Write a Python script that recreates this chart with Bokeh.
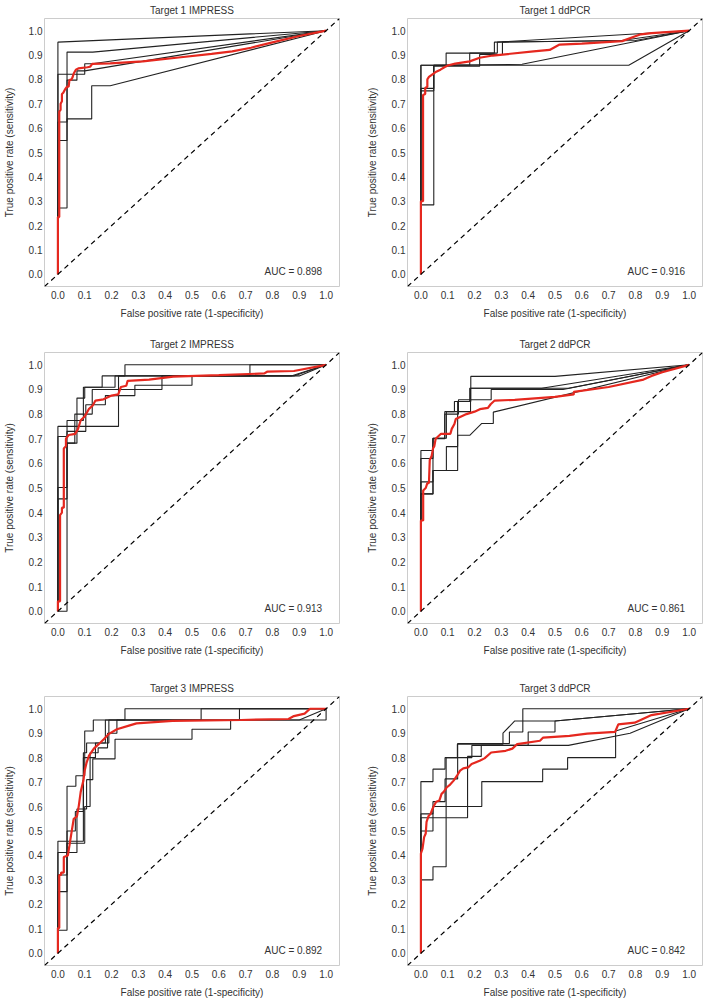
from bokeh.plotting import figure
from bokeh.layouts import column, row
from bokeh.models import Range1d, FixedTicker, Slope, Label
from bokeh.embed import file_html
from bokeh.resources import INLINE

TITLES = ["Target 1 IMPRESS", "Target 1 ddPCR", "Target 2 IMPRESS",
          "Target 2 ddPCR", "Target 3 IMPRESS", "Target 3 ddPCR"]
AUC_LABELS = ["AUC = 0.898", "AUC = 0.916", "AUC = 0.913",
              "AUC = 0.861", "AUC = 0.892", "AUC = 0.842"]
TICKS = [0.0, 0.1, 0.2, 0.3, 0.4, 0.5, 0.6, 0.7, 0.8, 0.9, 1.0]
TICK_LABELS = ["0.0", "0.1", "0.2", "0.3", "0.4", "0.5", "0.6", "0.7", "0.8", "0.9", "1.0"]
X_LABEL = "False positive rate (1-specificity)"
Y_LABEL = "True positive rate (sensitivity)"

# ---- Target 1 IMPRESS ----
T1I_BLACK_X = [
    [0, 0, 1],
    [0, 0, 0.034, 0.034, 0.13, 1],
    [0, 0, 0.1, 0.1, 0.128, 1],
    [0, 0, 0.034, 0.034, 0.071, 0.071, 0.1, 1],
    [0, 0, 0.034, 0.034, 0.126, 0.126, 0.195, 1],
]
T1I_BLACK_Y = [
    [0, 0.953, 1],
    [0, 0.272, 0.272, 0.912, 0.912, 1],
    [0, 0.821, 0.821, 0.864, 0.864, 1],
    [0, 0.549, 0.549, 0.797, 0.797, 0.835, 0.835, 1],
    [0, 0.625, 0.625, 0.638, 0.638, 0.774, 0.774, 1],
]
T1I_RED_X = [0, 0, 0.005, 0.005, 0.01, 0.01, 0.015, 0.015, 0.02, 0.027,
             0.034, 0.04, 0.043, 0.051, 0.055, 0.059, 0.067, 0.076, 0.11, 0.12,
             0.128, 0.195, 0.317, 0.45, 0.573, 0.65, 0.72, 0.8, 0.9, 1]
T1I_RED_Y = [0, 0.235, 0.235, 0.668, 0.675, 0.7, 0.71, 0.74, 0.745, 0.76,
             0.77, 0.77, 0.797, 0.8, 0.81, 0.824, 0.84, 0.845, 0.85, 0.852,
             0.864, 0.866, 0.874, 0.89, 0.905, 0.915, 0.93, 0.952, 0.978, 1]

# ---- Target 1 ddPCR ----
T1D_BLACK_X = [
    [0, 0, 0.094, 0.094, 0.185, 0.274, 0.274, 0.75, 1],
    [0, 0, 0.048, 0.048, 0.219, 0.219, 0.304, 0.304, 0.8, 1],
    [0, 0, 0.048, 0.048, 0.182, 0.182, 0.285, 0.285, 1],
    [0, 0, 0.048, 0.048, 0.377, 1],
    [0, 0, 0.775, 1],
]
T1D_BLACK_Y = [
    [0, 0.858, 0.858, 0.908, 0.908, 0.908, 0.953, 0.96, 1],
    [0, 0.285, 0.285, 0.854, 0.854, 0.902, 0.902, 0.953, 0.96, 1],
    [0, 0.763, 0.763, 0.858, 0.858, 0.908, 0.908, 0.953, 1],
    [0, 0.753, 0.753, 0.858, 0.862, 1],
    [0, 0.858, 0.858, 1],
]
T1D_RED_X = [0, 0, 0.008, 0.008, 0.016, 0.016, 0.024, 0.024, 0.03, 0.043,
             0.055, 0.073, 0.089, 0.103, 0.128, 0.182, 0.219, 0.268, 0.42, 0.48,
             0.517, 0.6, 0.75, 0.82, 0.86, 1]
T1D_RED_Y = [0, 0.3, 0.3, 0.736, 0.74, 0.765, 0.77, 0.8, 0.81, 0.821,
             0.83, 0.84, 0.851, 0.858, 0.865, 0.874, 0.889, 0.898, 0.915, 0.921,
             0.943, 0.947, 0.957, 0.985, 0.99, 1]

# ---- Target 2 IMPRESS ----
T2I_BLACK_X = [
    [0, 0, 0.226, 0.226, 0.87, 1],
    [0, 0, 0.034, 0.034, 0.095, 0.095, 0.213, 0.213, 0.25, 0.25, 1],
    [0, 0, 0.034, 0.034, 0.071, 0.071, 0.1, 0.1, 0.165, 0.165, 0.716, 0.716, 1],
    [0, 0, 0.034, 0.034, 0.104, 0.104, 0.177, 0.177, 0.287, 0.287, 0.5, 0.5, 0.9, 1],
    [0, 0.034, 0.034, 0.063, 0.063, 0.128, 0.128, 0.388, 0.388, 0.88, 1],
]
T2I_BLACK_Y = [
    [0, 0.75, 0.75, 0.955, 0.955, 1],
    [0, 0.709, 0.709, 0.774, 0.774, 0.909, 0.909, 0.955, 0.955, 1.0, 1],
    [0, 0.502, 0.502, 0.682, 0.682, 0.865, 0.865, 0.909, 0.909, 0.955, 0.955, 1.0, 1],
    [0, 0.456, 0.456, 0.73, 0.73, 0.838, 0.838, 0.875, 0.875, 0.917, 0.917, 0.955, 0.955, 1],
    [0, 0, 0.682, 0.682, 0.8, 0.8, 0.9, 0.9, 0.955, 0.955, 1],
]
T2I_RED_X = [0, 0, 0.008, 0.008, 0.015, 0.015, 0.022, 0.022, 0.03, 0.03,
             0.04, 0.065, 0.075, 0.085, 0.1, 0.105, 0.115, 0.13, 0.14, 0.17,
             0.2, 0.225, 0.235, 0.255, 0.26, 0.34, 0.43, 0.6, 0.77, 0.78,
             0.88, 1]
T2I_RED_Y = [0, 0.04, 0.04, 0.39, 0.4, 0.42, 0.42, 0.66, 0.67, 0.7,
             0.715, 0.72, 0.74, 0.775, 0.79, 0.8, 0.82, 0.835, 0.855, 0.86,
             0.875, 0.88, 0.91, 0.915, 0.935, 0.94, 0.952, 0.958, 0.965, 0.972,
             0.975, 1]

# ---- Target 2 ddPCR ----
T2D_BLACK_X = [
    [0, 0, 0.045, 0.045, 0.089, 0.089, 0.137, 0.137, 0.186, 0.186, 0.5, 1],
    [0, 0, 0.045, 0.045, 0.095, 0.095, 0.125, 0.125, 0.182, 0.182, 0.45, 1],
    [0, 0, 0.045, 0.045, 0.089, 0.089, 0.14, 0.14, 0.262, 0.262, 0.53, 1],
    [0, 0, 0.045, 0.045, 0.095, 0.095, 0.137, 0.137, 0.185, 0.185, 0.55, 1],
    [0, 0, 0.045, 0.045, 0.137, 0.137, 0.182, 0.227, 0.27, 0.27, 1],
]
T2D_BLACK_Y = [
    [0, 0.652, 0.652, 0.702, 0.702, 0.81, 0.81, 0.851, 0.851, 0.953, 0.953, 1],
    [0, 0.62, 0.62, 0.702, 0.702, 0.81, 0.81, 0.851, 0.851, 0.905, 0.905, 1],
    [0, 0.525, 0.525, 0.7, 0.7, 0.8, 0.8, 0.858, 0.858, 0.9, 0.9, 1],
    [0, 0.476, 0.476, 0.571, 0.571, 0.668, 0.668, 0.81, 0.81, 0.905, 0.905, 1],
    [0, 0.476, 0.476, 0.571, 0.571, 0.714, 0.714, 0.762, 0.762, 0.808, 1],
]
T2D_RED_X = [0, 0, 0.0085, 0.0085, 0.018, 0.024, 0.03, 0.033, 0.04, 0.045,
             0.05, 0.055, 0.065, 0.075, 0.11, 0.115, 0.125, 0.13, 0.14, 0.17,
             0.2, 0.22, 0.25, 0.26, 0.275, 0.35, 0.5, 0.57, 0.57, 0.7,
             0.83, 0.86, 0.9, 1]
T2D_RED_Y = [0, 0.368, 0.368, 0.49, 0.5, 0.52, 0.52, 0.614, 0.63, 0.66,
             0.67, 0.7, 0.71, 0.72, 0.72, 0.74, 0.76, 0.78, 0.785, 0.8,
             0.81, 0.82, 0.825, 0.84, 0.855, 0.858, 0.87, 0.88, 0.89, 0.91,
             0.94, 0.955, 0.97, 1]

# ---- Target 3 IMPRESS ----
T3I_BLACK_X = [
    [0, 0, 0.034, 0.034, 0.067, 0.067, 0.1, 0.1, 0.132, 0.132, 0.25, 0.25, 1],
    [0, 0, 0.095, 0.095, 0.107, 0.107, 0.177, 0.177, 0.534, 0.534, 1],
    [0, 0, 0.071, 0.071, 0.107, 0.107, 0.13, 0.13, 0.213, 0.213, 0.5, 0.5, 0.644, 0.644, 0.677, 0.677, 1],
    [0, 0, 0.034, 0.034, 0.065, 0.065, 0.095, 0.095, 0.14, 0.14, 0.19, 0.19, 0.9, 1],
    [0, 0, 0.034, 0.034, 0.1, 0.1, 0.12, 0.12, 0.15, 0.15, 0.185, 0.185, 0.22, 0.22, 1.0, 1.0],
]
T3I_BLACK_Y = [
    [0, 0.094, 0.094, 0.683, 0.683, 0.726, 0.726, 0.909, 0.909, 0.954, 0.954, 1.0, 1],
    [0, 0.458, 0.458, 0.82, 0.82, 0.86, 0.86, 0.954, 0.954, 1.0, 1],
    [0, 0.412, 0.412, 0.59, 0.59, 0.71, 0.71, 0.795, 0.795, 0.875, 0.875, 0.916, 0.916, 0.954, 0.954, 1.0, 1],
    [0, 0.32, 0.32, 0.5, 0.5, 0.58, 0.58, 0.8, 0.8, 0.86, 0.86, 0.954, 0.954, 1],
    [0, 0.252, 0.252, 0.45, 0.45, 0.6, 0.6, 0.82, 0.82, 0.84, 0.84, 0.9, 0.9, 0.954, 0.954, 1],
]
T3I_RED_X = [0, 0, 0.005, 0.005, 0.012, 0.012, 0.022, 0.022, 0.037, 0.043,
             0.049, 0.059, 0.071, 0.078, 0.085, 0.095, 0.1, 0.107, 0.116, 0.134,
             0.152, 0.171, 0.189, 0.22, 0.268, 0.293, 0.427, 0.683, 0.86, 0.88,
             0.92, 0.94, 1]
T3I_RED_Y = [0, 0.103, 0.103, 0.32, 0.32, 0.33, 0.33, 0.394, 0.4, 0.44,
             0.482, 0.55, 0.56, 0.604, 0.66, 0.706, 0.747, 0.78, 0.808, 0.837,
             0.855, 0.875, 0.896, 0.916, 0.932, 0.94, 0.95, 0.954, 0.958, 0.97,
             0.98, 1.0, 1]

# ---- Target 3 ddPCR ----
T3D_BLACK_X = [
    [0, 0, 0.045, 0.045, 0.09, 0.09, 0.136, 0.136, 0.306, 0.306, 0.35, 0.5, 1],
    [0, 0, 0.045, 0.045, 0.09, 0.09, 0.137, 0.137, 0.33, 0.33, 0.38, 0.38, 1],
    [0, 0, 0.174, 0.174, 0.225, 0.225, 0.55, 0.78, 1],
    [0, 0, 0.045, 0.045, 0.227, 0.227, 0.454, 0.454, 0.547, 0.547, 0.726, 0.726, 1],
    [0, 0, 0.045, 0.045, 0.094, 0.094, 0.19, 0.19, 0.4, 0.4, 0.5, 0.5, 1],
]
T3D_BLACK_Y = [
    [0, 0.702, 0.702, 0.753, 0.753, 0.8, 0.8, 0.855, 0.855, 0.9, 0.95, 0.95, 1],
    [0, 0.57, 0.57, 0.62, 0.62, 0.713, 0.713, 0.858, 0.858, 0.905, 0.905, 1.0, 1],
    [0, 0.554, 0.554, 0.805, 0.805, 0.85, 0.85, 0.9, 1],
    [0, 0.5, 0.5, 0.6, 0.6, 0.702, 0.702, 0.753, 0.753, 0.8, 0.8, 0.909, 1],
    [0, 0.3, 0.3, 0.354, 0.354, 0.8, 0.8, 0.85, 0.85, 0.905, 0.905, 0.95, 1],
]
T3D_RED_X = [0, 0, 0.006, 0.012, 0.018, 0.021, 0.028, 0.036, 0.043, 0.049,
             0.057, 0.069, 0.077, 0.085, 0.097, 0.109, 0.122, 0.134, 0.146, 0.158,
             0.176, 0.189, 0.219, 0.237, 0.262, 0.316, 0.341, 0.359, 0.444, 0.456,
             0.554, 0.62, 0.724, 0.736, 0.797, 0.86, 1]
T3D_RED_Y = [0, 0.408, 0.428, 0.475, 0.49, 0.537, 0.56, 0.57, 0.59, 0.604,
             0.62, 0.625, 0.652, 0.66, 0.679, 0.69, 0.706, 0.725, 0.747, 0.756,
             0.76, 0.774, 0.787, 0.797, 0.821, 0.828, 0.837, 0.855, 0.869, 0.882,
             0.889, 0.898, 0.905, 0.936, 0.943, 0.974, 1]

PANELS = [
    (T1I_BLACK_X, T1I_BLACK_Y, T1I_RED_X, T1I_RED_Y),
    (T1D_BLACK_X, T1D_BLACK_Y, T1D_RED_X, T1D_RED_Y),
    (T2I_BLACK_X, T2I_BLACK_Y, T2I_RED_X, T2I_RED_Y),
    (T2D_BLACK_X, T2D_BLACK_Y, T2D_RED_X, T2D_RED_Y),
    (T3I_BLACK_X, T3I_BLACK_Y, T3I_RED_X, T3I_RED_Y),
    (T3D_BLACK_X, T3D_BLACK_Y, T3D_RED_X, T3D_RED_Y),
]

FONT = "Liberation Sans"
TEXT_COLOR = "#333333"
FRAME_W = 299
FRAME_H = 271
COL_BORDERS = [(40, 24), (40, 3)]             # left, right
ROW_BORDERS = [(15, 44), (22, 47), (26, 33)]  # top, bottom


def make_panel(i):
    r, c = divmod(i, 2)
    bl, br = COL_BORDERS[c]
    bt, bb = ROW_BORDERS[r]
    bx, by, rx, ry = PANELS[i]
    p = figure(width=bl + FRAME_W + br, height=bt + FRAME_H + bb,
               x_range=Range1d(-0.05, 1.05), y_range=Range1d(-0.05, 1.05),
               output_backend="svg", toolbar_location=None,
               min_border_left=bl, min_border_right=br,
               min_border_top=bt, min_border_bottom=bb,
               title=TITLES[i])
    p.title.align = "center"
    p.title.text_font = FONT
    p.title.text_font_size = "10px"
    p.title.text_font_style = "normal"
    p.title.text_color = TEXT_COLOR
    p.title.standoff = 5
    p.grid.visible = False
    p.outline_line_color = "#cccccc"
    p.outline_line_width = 1
    p.background_fill_color = "white"
    p.border_fill_color = "white"

    for ax in (p.xaxis[0], p.yaxis[0]):
        ax.ticker = FixedTicker(ticks=TICKS)
        ax.major_label_overrides = dict(zip(TICKS, TICK_LABELS))
        ax.axis_line_color = None
        ax.major_tick_line_color = None
        ax.minor_tick_line_color = None
        ax.major_tick_out = 0
        ax.major_tick_in = 0
        ax.major_label_text_font = FONT
        ax.major_label_text_font_size = "10px"
        ax.major_label_text_color = TEXT_COLOR
        ax.axis_label_text_font = FONT
        ax.axis_label_text_font_size = "10px"
        ax.axis_label_text_font_style = "normal"
        ax.axis_label_text_color = TEXT_COLOR
    p.xaxis.axis_label = X_LABEL
    p.yaxis.axis_label = Y_LABEL
    p.xaxis.major_label_standoff = 4
    p.xaxis.axis_label_standoff = 6
    p.yaxis.major_label_standoff = 2
    p.yaxis.axis_label_standoff = 11

    p.add_layout(Slope(gradient=1, y_intercept=0, line_color="black",
                       line_dash="5 4", line_width=1.2))
    p.multi_line(xs=bx, ys=by, line_color="#222222", line_width=1.1)
    p.line(rx, ry, line_color="#e5281f", line_width=2.2)
    p.add_layout(Label(x=0.985, y=0.012, text=AUC_LABELS[i], text_align="right",
                       text_baseline="middle", text_font=FONT,
                       text_font_size="10px", text_color=TEXT_COLOR))
    return p


figs = [make_panel(i) for i in range(6)]
layout = column(row(figs[0], figs[1]), row(figs[2], figs[3]), row(figs[4], figs[5]))

open("out.html", "w").write(file_html(layout, INLINE))
